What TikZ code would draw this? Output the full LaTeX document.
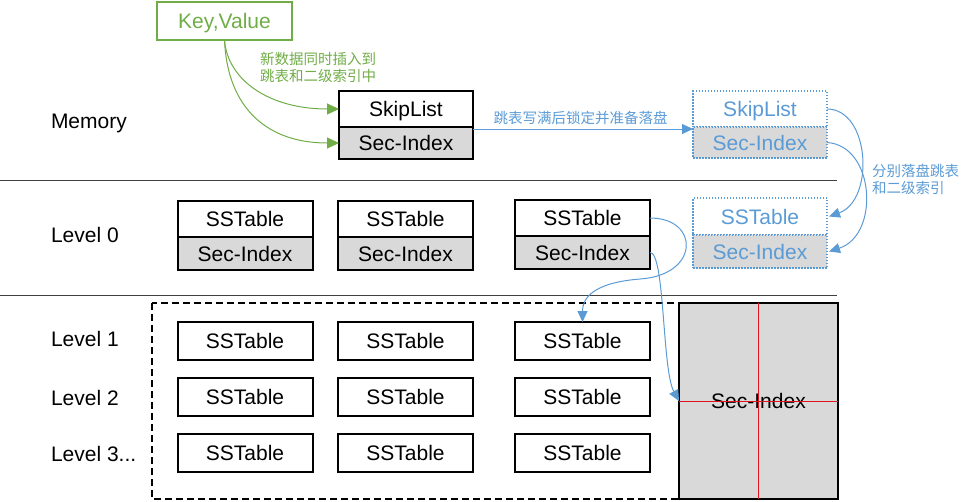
\documentclass[tikz,border=0pt]{standalone}
\usepackage{fontspec}
\setmainfont{Liberation Sans}
\newfontfamily\cjk{Noto Sans CJK SC}
\usetikzlibrary{arrows.meta}
\definecolor{gr}{HTML}{70AD47}
\definecolor{bl}{HTML}{5B9BD5}
\definecolor{lg}{HTML}{D9D9D9}
\definecolor{rd}{HTML}{E0141E}
\begin{document}
\begin{tikzpicture}[x=1pt,y=-1pt,
 every node/.style={inner sep=0pt, outer sep=0pt},
 txt/.style={font=\fontsize{21}{25}\selectfont, text height=15pt, text depth=0pt},
 blk/.style={txt, draw, line width=2pt, minimum width=135pt, minimum height=36pt},
 blkg/.style={blk, fill=lg, minimum height=33pt},
 dotbox/.style={txt, draw=bl, text=bl, line width=1.5pt, dash pattern=on 1.5pt off 1.5pt, minimum width=134pt, minimum height=36pt},
 dotboxg/.style={dotbox, fill=lg, minimum height=33pt},
 lbl/.style={txt, anchor=west},
 cn/.style={font=\cjk\fontsize{14.5}{17}\selectfont, align=left, anchor=west},
 garr/.style={draw=gr, line width=1pt, -{Triangle[length=12pt,width=11pt]}},
 barr/.style={draw=bl, line width=1pt, -{Triangle[length=11pt,width=10pt]}},
 sep/.style={draw=black!75, line width=1pt},
]
\useasboundingbox (0,0) rectangle (977,501);

% separators
\draw[sep] (0,180.5) -- (837,180.5);
\draw[sep] (0,295.5) -- (837,295.5);

% level labels
\node[lbl] (mem) at (51,121) {Memory};
\node[lbl] (lv0) at (51,234.5) {Level 0};
\node[lbl] (lv1) at (51,339) {Level 1};
\node[lbl] (lv2) at (51,397.5) {Level 2};
\node[lbl] (lv3) at (51,453.5) {Level 3...};

% key value
\node[blk, minimum height=38pt, draw=gr, text=gr] (kv) at (224.5,21) {Key,Value};
\node[cn, text=gr] (t1) at (260,67.5) {新数据同时插入到\\跳表和二级索引中};

% memory
\node[blk, minimum width=134pt] (msk) at (406,109) {SkipList};
\node[blkg, minimum width=134pt, minimum height=32pt] (msec) at (406,143) {Sec-Index};
\node[dotbox] (dsk) at (760,109) {SkipList};
\node[dotboxg, minimum height=31pt] (dsec) at (760,142.5) {Sec-Index};
\node[cn, text=bl, anchor=center] (t2) at (580.5,118) {跳表写满后锁定并准备落盘};

% level 0
\node[blk] (a0) at (245,219) {SSTable};
\node[blkg] (a0s) at (245,253.5) {Sec-Index};
\node[blk] (b0) at (405.5,219) {SSTable};
\node[blkg] (b0s) at (405.5,253.5) {Sec-Index};
\node[blk] (c0) at (582.5,218) {SSTable};
\node[blkg] (c0s) at (582.5,252.5) {Sec-Index};
\node[dotbox, minimum height=37pt] (d0) at (760,216.5) {SSTable};
\node[dotboxg] (d0s) at (760,251.5) {Sec-Index};
\node[cn, text=bl] (t3) at (872,179.5) {分别落盘跳表\\和二级索引};

% lower levels
\draw[line width=2pt, dash pattern=on 7pt off 4pt] (152,303) rectangle (679,499);
\foreach \r/\y in {1/341,2/397,3/453}{
  \node[blk, minimum height=38pt] (a\r) at (245,\y) {SSTable};
  \node[blk, minimum height=38pt] (b\r) at (405.5,\y) {SSTable};
  \node[blk, minimum height=38pt] (c\r) at (582.5,\y) {SSTable};
}
\node[blkg, minimum width=159pt, minimum height=196pt] (big) at (758.5,401) {Sec-Index};
\draw[rd, line width=1pt] (big.north) -- (big.south);
\draw[rd, line width=1pt] ([yshift=-0.5pt]big.west) -- ([yshift=-0.5pt]big.east);

% connectors
\draw[garr] (kv.south) .. controls +(3,40) and +(-70,0) .. (msk.west);
\draw[garr] (kv.south) .. controls +(3,70) and +(-70,0) .. (msec.west);
\draw[barr] ([yshift=-2pt]msec.north east) -- ([yshift=-2pt]dsec.north west);
\draw[barr] (dsk.east) .. controls +(43,0) and +(46,-16.5) .. ([xshift=2pt]d0.east);
\draw[barr] (dsec.east) .. controls +(48,3) and +(51,-16.5) .. ([xshift=2pt]d0s.east);
\coordinate (mid) at (640,279);
\draw[barr] (c0.east) .. controls +(50,0) and +(60,-4) .. (mid) .. controls +(-50,4) and +(0,-22) .. (c1.north);
\draw[barr] (c0s.east) .. controls +(15,0) and +(-17,-31) .. (big.west);
\end{tikzpicture}
\end{document}
